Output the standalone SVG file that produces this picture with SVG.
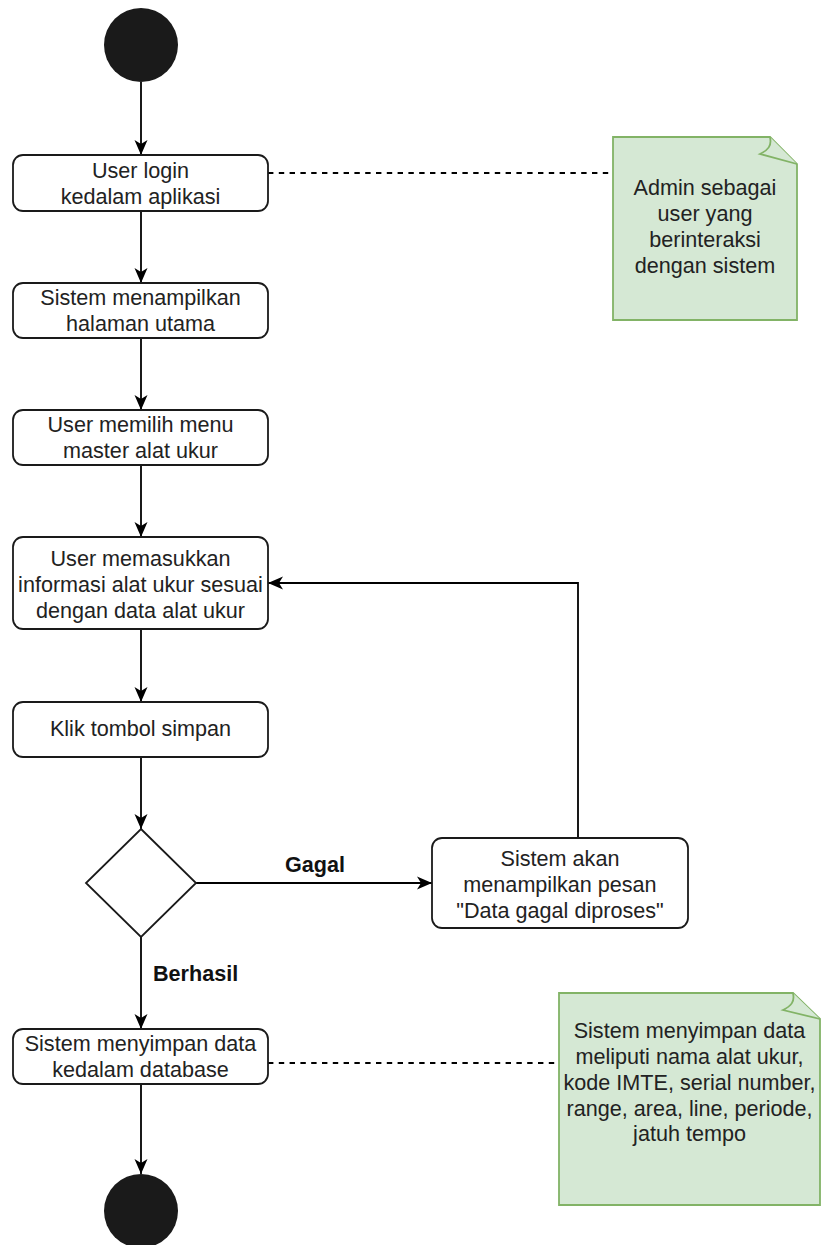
<svg xmlns="http://www.w3.org/2000/svg" width="823" height="1245" viewBox="0 0 823 1245">
  <style>
    .act { fill: #ffffff; stroke: #1a1a1a; stroke-width: 1.8; }
    .node-circle { fill: #1a1a1a; stroke: none; }
    .decision { fill: #ffffff; stroke: #1a1a1a; stroke-width: 1.8; }
    .note { fill: #d5e8d4; stroke: #82b366; stroke-width: 1.8; }
    .flow { fill: none; stroke: #000000; stroke-width: 1.8; }
    .link { fill: none; stroke: #000000; stroke-width: 1.8; stroke-dasharray: 5.4 5.4; }
    text { font-family: "Liberation Sans", Arial, sans-serif; font-size: 21.6px; fill: #222222; text-anchor: middle; }
    .lbl { font-weight: bold; fill: #111111; }
  </style>
  <defs>
    <marker id="arrow" viewBox="0 0 16 14" refX="15" refY="7" markerWidth="16" markerHeight="14" markerUnits="userSpaceOnUse" orient="auto">
      <path d="M15,7 L0,0.5 L4,7 L0,13.5 Z" fill="#000000"/>
    </marker>
  </defs>
  <rect width="823" height="1245" fill="#ffffff"/>

  <!-- connectors -->
  <g id="connectors">
    <line class="flow" x1="141" y1="82" x2="141" y2="155" marker-end="url(#arrow)"/>
    <line class="flow" x1="141" y1="211" x2="141" y2="283" marker-end="url(#arrow)"/>
    <line class="flow" x1="141" y1="338" x2="141" y2="410" marker-end="url(#arrow)"/>
    <line class="flow" x1="141" y1="465" x2="141" y2="537" marker-end="url(#arrow)"/>
    <line class="flow" x1="141" y1="629" x2="141" y2="702" marker-end="url(#arrow)"/>
    <line class="flow" x1="141" y1="757" x2="141" y2="829" marker-end="url(#arrow)"/>
    <line class="flow" x1="196" y1="883" x2="432" y2="883" marker-end="url(#arrow)"/>
    <polyline class="flow" points="578,838 578,583 268,583" marker-end="url(#arrow)"/>
    <line class="flow" x1="141" y1="937" x2="141" y2="1029" marker-end="url(#arrow)"/>
    <line class="flow" x1="141" y1="1084" x2="141" y2="1174" marker-end="url(#arrow)"/>
    <line class="link" x1="268" y1="173" x2="613" y2="173"/>
    <line class="link" x1="268" y1="1063" x2="559" y2="1063"/>
    <text class="lbl" x="315" y="872">Gagal</text>
    <text class="lbl" x="153" y="981" style="text-anchor:start">Berhasil</text>
  </g>

  <!-- start node -->
  <g id="start">
    <circle class="node-circle" cx="141" cy="45" r="37"/>
  </g>

  <g id="login">
    <rect class="act" x="13" y="155" width="255" height="56" rx="10"/>
    <text x="140.5" y="178">User login</text>
    <text x="140.5" y="204">kedalam aplikasi</text>
  </g>

  <g id="home">
    <rect class="act" x="13" y="283" width="255" height="55" rx="10"/>
    <text x="140.5" y="305">Sistem menampilkan</text>
    <text x="140.5" y="331">halaman utama</text>
  </g>

  <g id="menu">
    <rect class="act" x="13" y="410" width="255" height="55" rx="10"/>
    <text x="140.5" y="432">User memilih menu</text>
    <text x="140.5" y="458">master alat ukur</text>
  </g>

  <g id="input">
    <rect class="act" x="13" y="537" width="255" height="92" rx="10"/>
    <text x="140.5" y="566">User memasukkan</text>
    <text x="140.5" y="592">informasi alat ukur sesuai</text>
    <text x="140.5" y="618">dengan data alat ukur</text>
  </g>

  <g id="save">
    <rect class="act" x="13" y="702" width="255" height="55" rx="10"/>
    <text x="140.5" y="736">Klik tombol simpan</text>
  </g>

  <g id="decision">
    <polygon class="decision" points="141,829 196,883 141,937 86,883"/>
  </g>

  <g id="failed">
    <rect class="act" x="432" y="838" width="256" height="90" rx="10"/>
    <text x="560" y="866">Sistem akan</text>
    <text x="560" y="892">menampilkan pesan</text>
    <text x="560" y="918">"Data gagal diproses"</text>
  </g>

  <g id="store">
    <rect class="act" x="13" y="1029" width="255" height="55" rx="10"/>
    <text x="140.5" y="1051">Sistem menyimpan data</text>
    <text x="140.5" y="1077">kedalam database</text>
  </g>

  <!-- end node -->
  <g id="end">
    <circle class="node-circle" cx="141" cy="1211" r="37"/>
  </g>

  <g id="note-admin">
    <path class="note" d="M613,137 L770,137 L797,164 L797,320 L613,320 Z"/>
    <path class="note" d="M770,137 C772,146 768,150 760,154 L797,164"/>
    <text x="705" y="195">Admin sebagai</text>
    <text x="705" y="221">user yang</text>
    <text x="705" y="247">berinteraksi</text>
    <text x="705" y="273">dengan sistem</text>
  </g>

  <g id="note-data">
    <path class="note" d="M559,993 L793,993 L820,1019 L820,1205 L559,1205 Z"/>
    <path class="note" d="M793,993 C795,1002 791,1006 783,1010 L820,1019"/>
    <text x="689.5" y="1038">Sistem menyimpan data</text>
    <text x="689.5" y="1064">meliputi nama alat ukur,</text>
    <text x="689.5" y="1090">kode IMTE, serial number,</text>
    <text x="689.5" y="1116">range, area, line, periode,</text>
    <text x="689.5" y="1141">jatuh tempo</text>
  </g>
</svg>
